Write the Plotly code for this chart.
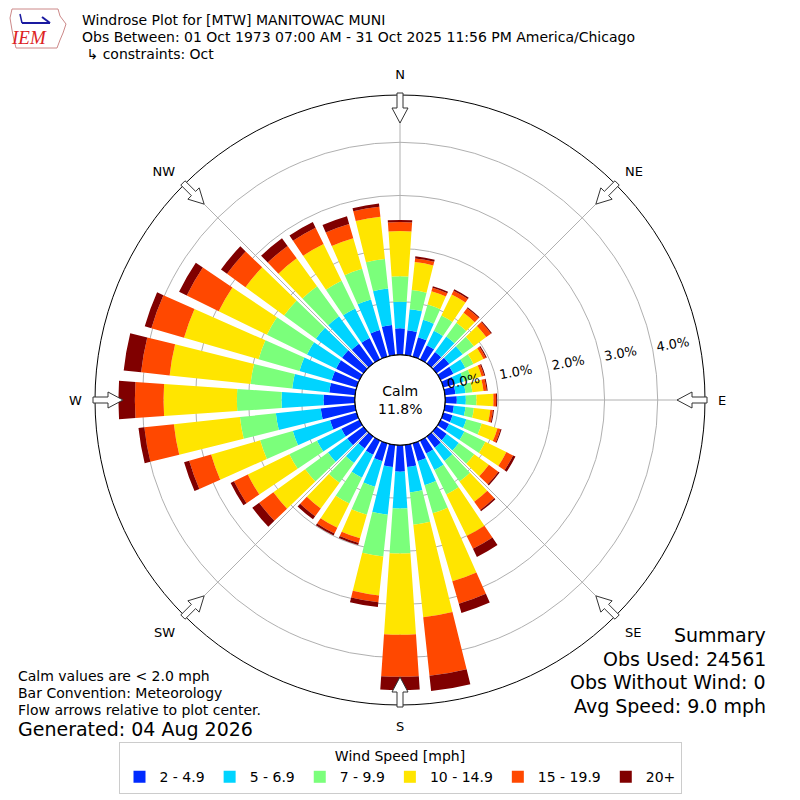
"""Windrose for MTW (October) recreated with plotly barpolar."""

import numpy as np
import plotly.graph_objects as go

directions = list(range(0, 360, 10))
speed_bins = ["2 - 4.9", "5 - 6.9", "7 - 9.9", "10 - 14.9", "15 - 19.9", "20+"]
bin_colors = ["#002aff", "#00d4ff", "#7bff7b", "#ffe500", "#ff4800", "#800000"]

# outer edge (cumulative %) of each speed band, directions 0..350 by 10
upto_4_9 = [0.50, 0.47, 0.38, 0.30, 0.27, 0.30, 0.27, 0.22, 0.20, 0.22, 0.17, 0.18,
            0.18, 0.24, 0.26, 0.27, 0.35, 0.42, 0.50, 0.42, 0.35, 0.30, 0.28, 0.38,
            0.38, 0.52, 0.65, 0.59, 0.49, 0.49, 0.49, 0.50, 0.46, 0.45, 0.52, 0.57]
upto_6_9 = [1.00, 0.87, 0.72, 0.60, 0.63, 0.61, 0.52, 0.40, 0.39, 0.39, 0.39, 0.45,
            0.50, 0.52, 0.57, 0.62, 0.82, 0.90, 1.19, 1.32, 0.85, 0.78, 0.62, 0.83,
            0.89, 1.25, 1.50, 1.38, 1.19, 1.12, 1.10, 1.11, 1.10, 1.07, 1.12, 1.26]
upto_9_9 = [1.48, 1.23, 1.02, 0.92, 0.95, 0.87, 0.69, 0.55, 0.52, 0.59, 0.55, 0.75,
            0.94, 0.88, 1.05, 1.13, 1.37, 1.51, 2.04, 2.11, 1.40, 1.32, 1.08, 1.36,
            1.47, 1.89, 2.18, 2.22, 1.98, 1.92, 1.94, 1.85, 1.80, 1.65, 1.72, 1.82]
upto_14_9 = [2.33, 1.76, 1.28, 1.36, 1.18, 1.16, 0.90, 0.75, 0.73, 0.91, 0.86, 1.06,
             1.38, 1.22, 1.52, 2.00, 2.70, 3.26, 3.57, 2.85, 1.86, 1.83, 1.68, 2.10,
             2.34, 2.85, 3.43, 3.60, 3.51, 3.38, 2.95, 2.75, 2.45, 2.42, 2.32, 2.62]
upto_19_9 = [2.50, 1.83, 1.35, 1.44, 1.29, 1.27, 0.95, 0.80, 0.79, 0.96, 0.91, 1.12,
             1.52, 1.44, 1.71, 2.27, 3.14, 4.37, 4.36, 2.98, 1.95, 1.95, 1.86, 2.43,
             2.63, 3.28, 3.99, 4.14, 4.05, 4.02, 3.62, 3.18, 2.74, 2.76, 2.60, 2.81]
upto_all = [2.54, 1.87, 1.38, 1.47, 1.31, 1.29, 0.97, 0.82, 0.81, 0.98, 0.93, 1.14,
            1.57, 1.47, 1.74, 2.44, 3.32, 4.66, 4.61, 3.07, 1.99, 1.99, 1.93, 2.59,
            2.70, 3.38, 4.10, 4.45, 4.38, 4.15, 3.78, 3.32, 2.92, 2.88, 2.75, 2.87]

calm_pct = 11.8
r_ticks = [0, 1, 2, 3, 4]
compass_angles = [0, 45, 90, 135, 180, 225, 270, 315]
compass_labels = ["N", "NE", "E", "SE", "S", "SW", "W", "NW"]

FONT = "DejaVu Sans"

cum = np.vstack([np.zeros(len(directions)), upto_4_9, upto_6_9, upto_9_9,
                 upto_14_9, upto_19_9, upto_all])
band_vals = np.diff(cum, axis=0)

fig = go.Figure()
for name, color, vals in zip(speed_bins, bin_colors, band_vals):
    fig.add_trace(go.Barpolar(
        r=vals, theta=directions, width=7.8, name=name,
        marker=dict(color=color, line=dict(width=0)),
    ))

# black rim of the calm circle
fig.add_trace(go.Scatterpolar(
    r=[0] * 361, theta=list(range(361)), mode="lines",
    line=dict(color="black", width=1.2), showlegend=False, hoverinfo="skip",
))


def arrow_path(theta):
    # hollow arrow on the rim pointing to the centre, in paper units
    t = np.radians(theta)
    ox, oy = np.sin(t), np.cos(t)
    qx, qy = oy, -ox
    pts = [(307, -3), (292, -3), (292, -8), (277, 0), (292, 8), (292, 3), (307, 3)]
    xy = [((400 + r * ox + w * qx) / 800, (400 + r * oy + w * qy) / 800) for r, w in pts]
    return "M " + " L ".join(f"{x:.5f},{y:.5f}" for x, y in xy) + " Z"


shapes = [
    dict(type="path", path=arrow_path(a), xref="paper", yref="paper",
         fillcolor="white", line=dict(color="#333333", width=1))
    for a in compass_angles
]


# rough IEM logo (Iowa outline + wind barb)
def px(x, y):
    return f"{x / 800:.5f},{(800 - y) / 800:.5f}"


iowa = [(12, 9), (58, 9), (60, 16), (66, 24), (63, 33), (60, 40), (57, 48),
        (16, 48), (14, 40), (12, 30), (10, 18)]
shapes.append(dict(type="path", xref="paper", yref="paper",
                   path="M " + " L ".join(px(x, y) for x, y in iowa) + " Z",
                   line=dict(color="#c88", width=1), fillcolor="white"))
shapes.append(dict(type="line", xref="paper", yref="paper",
                   x0=22 / 800, y0=(800 - 23) / 800, x1=50 / 800, y1=(800 - 23) / 800,
                   line=dict(color="#1a1aa0", width=2)))
shapes.append(dict(type="line", xref="paper", yref="paper",
                   x0=42 / 800, y0=(800 - 17) / 800, x1=50 / 800, y1=(800 - 23) / 800,
                   line=dict(color="#1a1aa0", width=2)))
shapes.append(dict(type="line", xref="paper", yref="paper",
                   x0=20 / 800, y0=(800 - 14) / 800, x1=22 / 800, y1=(800 - 23) / 800,
                   line=dict(color="#1a1aa0", width=1.5)))

annotations = [
    dict(text="<i>IEM</i>", x=29 / 800, y=(800 - 38) / 800, showarrow=False,
         font=dict(family="Liberation Serif", size=19, color="#d22"),
         xanchor="center", yanchor="middle"),
    dict(text="Windrose Plot for [MTW] MANITOWAC MUNI", x=80 / 800, y=(800 - 20) / 800),
    dict(text="Obs Between: 01 Oct 1973 07:00 AM - 31 Oct 2025 11:56 PM America/Chicago",
         x=80 / 800, y=(800 - 37) / 800),
    dict(text=" \u21b3 constraints: Oct", x=80 / 800, y=(800 - 54) / 800),
    dict(text="Calm values are < 2.0 mph", x=16 / 800, y=(800 - 676) / 800),
    dict(text="Bar Convention: Meteorology", x=16 / 800, y=(800 - 693) / 800),
    dict(text="Flow arrows relative to plot center.", x=16 / 800, y=(800 - 710) / 800),
    dict(text="Generated: 04 Aug 2026", x=16 / 800, y=(800 - 729) / 800,
         font=dict(family=FONT, size=19, color="black")),
    dict(text="Calm<br>%.1f%%" % calm_pct, x=0.5, y=0.5, xanchor="center",
         font=dict(family=FONT, size=14, color="black")),
]
for i, line in enumerate(["Summary", "Obs Used: 24561", "Obs Without Wind: 0",
                          "Avg Speed: 9.0 mph"]):
    annotations.append(dict(text=line, x=768 / 800, y=(800 - 635 - 23.5 * i) / 800,
                            xanchor="right", font=dict(family=FONT, size=19, color="black")))
for a in annotations:
    a.setdefault("showarrow", False)
    a.setdefault("xref", "paper")
    a.setdefault("yref", "paper")
    a.setdefault("xanchor", "left")
    a.setdefault("yanchor", "middle")
    a.setdefault("font", dict(family=FONT, size=14, color="black"))

pad = "\u00a0" * 10
fig.update_layout(
    width=800, height=800,
    margin=dict(l=0, r=0, t=0, b=0),
    paper_bgcolor="white",
    font=dict(family=FONT, size=13, color="black"),
    polar=dict(
        domain=dict(x=[95 / 800, 705 / 800], y=[95 / 800, 705 / 800]),
        bgcolor="white",
        hole=0.148,
        barmode="stack",
        radialaxis=dict(
            range=[0, 4.89], tickvals=r_ticks,
            ticktext=[pad + "%.1f%%" % v for v in r_ticks],
            angle=10, side="counterclockwise", tickangle=0, showline=False, ticks="",
            gridcolor="#b0b0b0", gridwidth=1, layer="above traces",
            tickfont=dict(size=13, color="black"),
        ),
        angularaxis=dict(
            direction="clockwise", rotation=90,
            tickvals=compass_angles, ticktext=compass_labels,
            showline=True, linecolor="black", linewidth=1,
            gridcolor="#b0b0b0", gridwidth=1, layer="above traces",
            ticks="outside", ticklen=10, tickcolor="rgba(0,0,0,0)",
            tickfont=dict(size=13, color="black"),
        ),
    ),
    legend=dict(
        orientation="h", x=0.5, xanchor="center", y=(800 - 742) / 800, yanchor="top",
        bordercolor="#cccccc", borderwidth=1,
        title=dict(text="Wind Speed [mph]", side="top center", font=dict(size=14)),
        font=dict(size=14),
    ),
    shapes=shapes,
    annotations=annotations,
)

fig.write_html("out.html", config={"displayModeBar": False},
               post_script="document.body.style.margin='0';")
